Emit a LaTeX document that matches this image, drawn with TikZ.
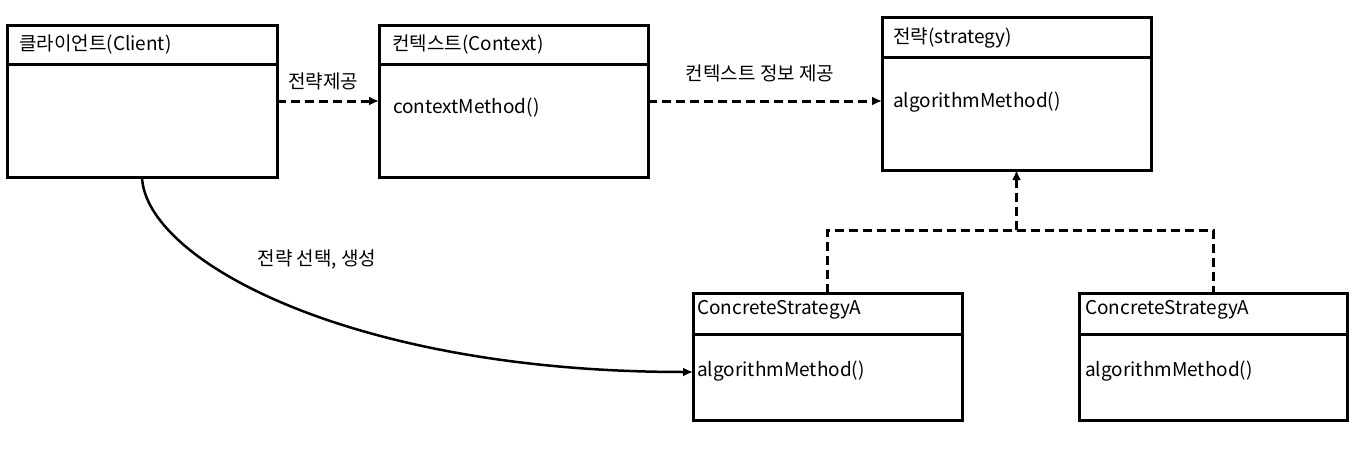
\documentclass[tikz,border=0pt]{standalone}
\usepackage{fontspec}
\setmainfont{Noto Sans CJK KR}
\usetikzlibrary{arrows.meta}
\begin{document}
\begin{tikzpicture}[x=1pt,y=-1pt,
  umlbox/.style={draw,line width=3pt,rectangle,anchor=north west,outer sep=0pt,inner sep=0pt},
  divider/.style={line width=3pt},
  txt/.style={anchor=west,inner sep=0pt,font=\fontsize{19}{21}\selectfont},
  lbl/.style={inner sep=0pt,font=\fontsize{19}{21}\selectfont},
  dashline/.style={line width=3pt,dash pattern=on 9pt off 5pt},
  dasharrow/.style={dashline,-{Latex[length=10pt,width=9pt]}},
  solidarrow/.style={line width=2.5pt,-{Latex[length=10pt,width=9pt]}}
]
\useasboundingbox (0,0) rectangle (1352,452);

% boxes
\node[umlbox,minimum width=270pt,minimum height=151pt] (client) at (7,26) {};
\node[umlbox,minimum width=269pt,minimum height=151pt] (context) at (379,26) {};
\node[umlbox,minimum width=269pt,minimum height=152.5pt] (strategy) at (882,17.5) {};
\node[umlbox,minimum width=269pt,minimum height=127pt] (ca) at (693,293) {};
\node[umlbox,minimum width=268pt,minimum height=127pt] (cb) at (1079,293) {};

% header dividers
\draw[divider] ([yshift=-39pt]client.north west) -- ([yshift=-39pt]client.north east);
\draw[divider] ([yshift=-39pt]context.north west) -- ([yshift=-39pt]context.north east);
\draw[divider] ([yshift=-40.5pt]strategy.north west) -- ([yshift=-40.5pt]strategy.north east);
\draw[divider] ([yshift=-41pt]ca.north west) -- ([yshift=-41pt]ca.north east);
\draw[divider] ([yshift=-41pt]cb.north west) -- ([yshift=-41pt]cb.north east);

% texts
\node[txt] (clientT) at (19,45) {클라이언트(Client)};
\node[txt] (contextT) at (392,45) {컨텍스트(Context)};
\node[txt] (contextM) at (393,108) {contextMethod()};
\node[txt] (strategyT) at (893,38) {전략(strategy)};
\node[txt] (strategyM) at (893,102) {algorithmMethod()};
\node[txt] (caT) at (697,310) {ConcreteStrategyA};
\node[txt] (caM) at (697,371) {algorithmMethod()};
\node[txt] (cbT) at (1085,310) {ConcreteStrategyA};
\node[txt] (cbM) at (1085,371) {algorithmMethod()};

% labels
\node[lbl] (l1) at (323,81) {전략제공};
\node[lbl] (l2) at (760,73) {컨텍스트 정보 제공};
\node[lbl] (l3) at (317,259) {전략 선택, 생성};

% connectors
\draw[dasharrow] ([yshift=-75pt]client.north east) -- ([yshift=-75pt]context.north west);
\draw[dasharrow] ([yshift=-75pt]context.north east) -- ([yshift=-83.5pt]strategy.north west);
\coordinate (j) at (1016.5,230);
\draw[dashline] (ca.north) |- (j) -| (cb.north);
\draw[dasharrow] (j) -- (strategy.south);
\draw[solidarrow] (client.south) .. controls (145,260) and (350,372) .. ([yshift=-79pt]ca.north west);
\end{tikzpicture}
\end{document}
